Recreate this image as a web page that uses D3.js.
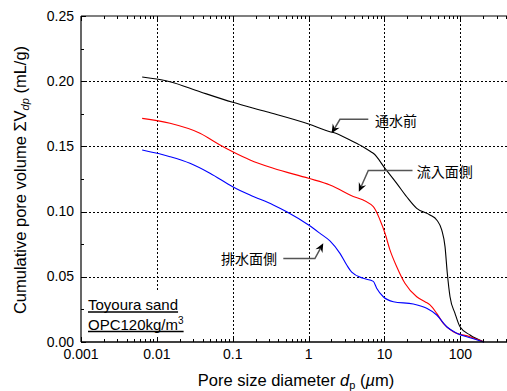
<!DOCTYPE html>
<html>
<head>
<meta charset="utf-8">
<script src="https://cdn.jsdelivr.net/npm/d3@7/dist/d3.min.js"></script>
<style>
  html, body { margin: 0; padding: 0; background: #fff; }
  svg { display: block; }
  text { font-family: "Liberation Sans", Arial, sans-serif; fill: #000; }
  .jp { font-family: "Noto Sans CJK JP", "Noto Sans CJK SC", sans-serif; }
</style>
</head>
<body>
<svg id="chart" width="507" height="391"></svg>
<script>
// Cumulative pore volume curves (MIP), pore diameter in µm, volume in mL/g
const dBefore = [0.0064, 0.0149, 0.037, 0.1, 0.28, 1.0, 1.91, 2.12, 3.51, 5.0, 6.78, 7.12, 10.16, 14.5, 19.6, 26.6, 39.8, 48.8, 56.8, 62.8, 67.3, 73.1, 85, 98.9, 134, 205];
const vBefore = [0.2032, 0.1996, 0.1919, 0.1838, 0.1766, 0.1672, 0.1613, 0.1606, 0.1549, 0.1503, 0.1455, 0.1447, 0.1332, 0.1217, 0.1114, 0.1025, 0.0974, 0.0936, 0.0859, 0.0731, 0.0527, 0.0347, 0.0220, 0.0117, 0.0054, 0.0];

const dInflow = [0.0064, 0.0149, 0.037, 0.0679, 0.1, 0.169, 0.342, 1.0, 1.91, 3.51, 7.12, 8.73, 10.16, 11.8, 14.5, 18.6, 26.6, 34.2, 39.8, 48.8, 59.6, 80.7, 134, 205];
const vInflow = [0.1715, 0.1677, 0.1601, 0.1511, 0.1459, 0.1396, 0.1332, 0.1255, 0.1204, 0.1127, 0.1038, 0.0936, 0.0834, 0.0706, 0.0577, 0.0450, 0.0347, 0.0309, 0.0284, 0.0220, 0.0143, 0.0079, 0.0041, 0.0];

const dOutflow = [0.0064, 0.0149, 0.0273, 0.0501, 0.1, 0.169, 0.342, 0.514, 1.0, 1.4, 1.91, 2.59, 3.18, 3.70, 5.26, 7.12, 7.89, 9.64, 13.1, 24.0, 36.0, 48.8, 66.1, 89.5, 134, 205];
const vOutflow = [0.1472, 0.1421, 0.1370, 0.1294, 0.1191, 0.1127, 0.1051, 0.0999, 0.0897, 0.0835, 0.0775, 0.0680, 0.0590, 0.0535, 0.0488, 0.0465, 0.0412, 0.0347, 0.0309, 0.0291, 0.0258, 0.0207, 0.0117, 0.0067, 0.0033, 0.0];

const xTickValues = [0.001, 0.01, 0.1, 1, 10, 100];
const xTickLabels = ["0.001", "0.01", "0.1", "1", "10", "100"];
const yTickValues = [0, 0.05, 0.10, 0.15, 0.20, 0.25];
const yTickLabels = ["0.00", "0.05", "0.10", "0.15", "0.20", "0.25"];

const seriesNames = ["通水前", "流入面側", "排水面側"];
const seriesColors = ["#000000", "#ff0000", "#0000ff"];

const svg = d3.select("#chart");
const plotLeft = 81, plotTop = 16, plotBottom = 342, plotRight = 507;
const decade = 75.87;

const x = d3.scaleLog().domain([0.001, 1000]).range([plotLeft, plotLeft + 6 * decade]);
const y = d3.scaleLinear().domain([0, 0.25]).range([plotBottom, plotTop]);

// grid
const grid = svg.append("g").attr("stroke", "#000").attr("stroke-width", 1).attr("stroke-dasharray", "2,2");
[0.01, 0.1, 1, 10, 100].forEach(v => {
  grid.append("line").attr("x1", Math.round(x(v)) + 0.5).attr("x2", Math.round(x(v)) + 0.5)
    .attr("y1", plotTop).attr("y2", plotBottom);
});
[0.05, 0.10, 0.15, 0.20].forEach(v => {
  grid.append("line").attr("y1", Math.round(y(v)) + 0.5).attr("y2", Math.round(y(v)) + 0.5)
    .attr("x1", plotLeft).attr("x2", plotRight);
});

// curves
const line = d3.line().x(d => x(d[0])).y(d => y(d[1])).curve(d3.curveMonotoneX);
const series = [
  d3.zip(dBefore, vBefore),
  d3.zip(dInflow, vInflow),
  d3.zip(dOutflow, vOutflow)
];
series.forEach((s, i) => {
  svg.append("path").datum(s).attr("d", line)
    .attr("fill", "none").attr("stroke", seriesColors[i]).attr("stroke-width", 1.1);
});

// sample description box (covers grid)
const legendG = svg.append("g");
legendG.append("rect").attr("x", plotLeft + 1).attr("y", y(0.0385)).attr("width", x(0.021) - plotLeft)
  .attr("height", plotBottom - y(0.0385) - 1).attr("fill", "#fff");
const t1 = legendG.append("text").attr("x", 88).attr("y", 310).attr("font-size", 15).text("Toyoura sand");
const t2 = legendG.append("text").attr("x", 88).attr("y", 329.5).attr("font-size", 15);
t2.append("tspan").text("OPC120kg/m");
t2.append("tspan").attr("font-size", 10).attr("dy", -6).text("3");
const w1 = t1.node().getComputedTextLength();
const w2 = t2.node().getComputedTextLength();
legendG.append("line").attr("x1", 88).attr("x2", 88 + w1).attr("y1", 312).attr("y2", 312)
  .attr("stroke", "#000").attr("stroke-width", 1.4);
legendG.append("line").attr("x1", 88).attr("x2", 88 + w2).attr("y1", 331.5).attr("y2", 331.5)
  .attr("stroke", "#000").attr("stroke-width", 1.4);

// axes frame
const axisG = svg.append("g").attr("stroke", "#000").attr("fill", "none");
axisG.append("line").attr("x1", plotLeft).attr("x2", plotRight).attr("y1", plotBottom).attr("y2", plotBottom).attr("stroke-width", 1.4);
axisG.append("line").attr("x1", plotLeft).attr("x2", plotRight).attr("y1", plotTop).attr("y2", plotTop).attr("stroke-width", 1.2);
axisG.append("line").attr("x1", plotLeft).attr("x2", plotLeft).attr("y1", plotTop).attr("y2", plotBottom).attr("stroke-width", 1.2);

// x ticks (major + minor), inward on bottom and top
const xMinor = [];
for (let e = -3; e <= 2; e++) for (let k = 1; k <= 9; k++) xMinor.push({ v: k * Math.pow(10, e), major: k === 1 });
xMinor.filter(t => x(t.v) <= plotRight).forEach(t => {
  const len = t.major ? 5 : 3;
  const px = Math.round(x(t.v)) + 0.5;
  axisG.append("line").attr("x1", px).attr("x2", px).attr("y1", plotBottom).attr("y2", plotBottom - len).attr("stroke-width", 1);
  axisG.append("line").attr("x1", px).attr("x2", px).attr("y1", plotTop).attr("y2", plotTop + len).attr("stroke-width", 1);
});

// y ticks inward on left
d3.range(0, 0.2501, 0.025).forEach((v, i) => {
  const py = Math.round(y(v)) + 0.5;
  axisG.append("line").attr("x1", plotLeft).attr("x2", plotLeft + (i % 2 === 0 ? 5 : 3)).attr("y1", py).attr("y2", py).attr("stroke-width", 1);
});

// tick labels
xTickValues.forEach((v, i) => {
  svg.append("text").attr("x", x(v)).attr("y", 359).attr("text-anchor", "middle").attr("font-size", 14).text(xTickLabels[i]);
});
yTickValues.forEach((v, i) => {
  svg.append("text").attr("x", 74).attr("y", y(v) + 4.5).attr("text-anchor", "end").attr("font-size", 14).text(yTickLabels[i]);
});

// axis titles
const xt = svg.append("text").attr("x", 296).attr("y", 386).attr("text-anchor", "middle").attr("font-size", 16.5);
xt.append("tspan").text("Pore size diameter ");
xt.append("tspan").attr("font-style", "italic").text("d");
xt.append("tspan").attr("font-size", 11).attr("dy", 3).text("p");
xt.append("tspan").attr("dy", -3).text(" (");
xt.append("tspan").attr("font-style", "italic").text("µ");
xt.append("tspan").text("m)");

const yt = svg.append("text").attr("transform", "translate(26,180) rotate(-90)").attr("text-anchor", "middle").attr("font-size", 16.5);
yt.append("tspan").text("Cumulative pore volume ΣV");
yt.append("tspan").attr("font-size", 11).attr("font-style", "italic").attr("dy", 3).text("dp");
yt.append("tspan").attr("dy", -3).text(" (mL/g)");

// annotation leaders: text position, line start, corner, arrow tip (data units)
const notes = [
  { name: seriesNames[0], text: [7.5, 0.1697], anchor: "start", start: [6.12, 0.1708], corner: [2.59, 0.1708], tip: [2.01, 0.160] },
  { name: seriesNames[1], text: [26.6, 0.1304], anchor: "start", start: [23.4, 0.1315], corner: [6.12, 0.1315], tip: [4.59, 0.1152] },
  { name: seriesNames[2], text: [0.383, 0.0637], anchor: "end", start: [0.464, 0.0640], corner: [1.21, 0.0640], tip: [1.56, 0.0757] }
];
notes.forEach(n => {
  const p0 = [x(n.start[0]), y(n.start[1])];
  const p1 = [x(n.corner[0]), y(n.corner[1])];
  const p2 = [x(n.tip[0]), y(n.tip[1])];
  const ang = Math.atan2(p2[1] - p1[1], p2[0] - p1[0]);
  const L = 9, W = 4;
  const back = [p2[0] - L * Math.cos(ang), p2[1] - L * Math.sin(ang)];
  const notch = [p2[0] - L * 0.65 * Math.cos(ang), p2[1] - L * 0.65 * Math.sin(ang)];
  svg.append("polyline").attr("points", [p0, p1, notch].map(p => p.join(",")).join(" "))
    .attr("fill", "none").attr("stroke", "#555").attr("stroke-width", 1.5);
  const perp = ang + Math.PI / 2;
  const wingA = [back[0] + W * Math.cos(perp), back[1] + W * Math.sin(perp)];
  const wingB = [back[0] - W * Math.cos(perp), back[1] - W * Math.sin(perp)];
  svg.append("polygon").attr("points", [p2, wingA, notch, wingB].map(p => p.join(",")).join(" ")).attr("fill", "#000");
  svg.append("text").attr("class", "jp").attr("x", x(n.text[0])).attr("y", y(n.text[1]) + 5)
    .attr("text-anchor", n.anchor).attr("font-size", 14).text(n.name);
});
</script>
</body>
</html>
